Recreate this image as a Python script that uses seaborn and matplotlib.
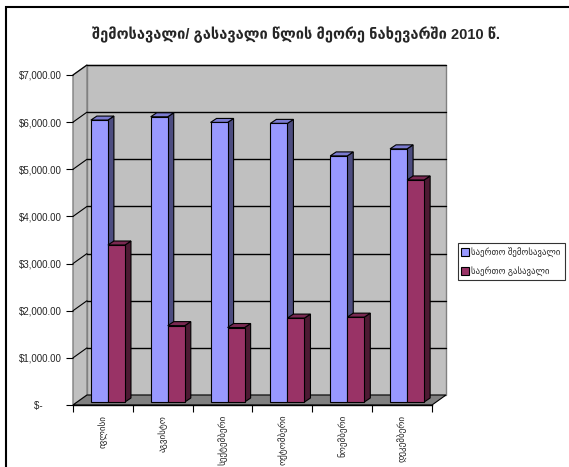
import numpy as np
import pandas as pd
import matplotlib
matplotlib.use("Agg")
import matplotlib.pyplot as plt
import seaborn as sns
from matplotlib.patches import Polygon, Rectangle
from matplotlib.lines import Line2D
from matplotlib.ticker import FixedLocator, FuncFormatter


# Data

months = ["ივლისი", "აგვისტო", "სექტემბერი", "ოქტომბერი", "ნოემბერი", "დეკემბერი"]
income = [5980, 6050, 5930, 5910, 5220, 5370]
expense = [3330, 1620, 1580, 1780, 1800, 4710]
series = ["საერთო შემოსავალი", "საერთო გასავალი"]
yticks = [0, 1000, 2000, 3000, 4000, 5000, 6000, 7000]

df = pd.DataFrame({
    "month": months * 2,
    "value": income + expense,
    "series": [series[0]] * 6 + [series[1]] * 6,
})

front_cols = ["#9999FF", "#993366"]
side_cols = ["#4D4D80", "#4D1A33"]
top_cols = ["#7B7BD0", "#7A2952"]

sns.set_style("white")
plt.rcParams["font.family"] = ["Liberation Sans", "DejaVu Sans"]

fig = plt.figure(figsize=(5.69, 4.67), dpi=100)
ax = fig.add_axes([73 / 569, 1 - 405 / 467, 359 / 569, 330 / 467])

sns.barplot(data=df, x="month", y="value", hue="series", palette=front_cols,
            width=0.57, edgecolor="black", linewidth=0.8, saturation=1,
            legend=False, ax=ax)

ax.set_xlim(-0.5, 5.5)
ax.set_ylim(0, 7000)
ax.set_facecolor("none")

# pixel -> data units
px_x = 6 / 359
px_y = 7000 / 330
bx, by = 14 * px_x, 10 * px_y      # back wall offset
fx, fy = 5 * px_x, 3 * px_y        # bar front plane offset
dx, dy = 6 * px_x, 4 * px_y        # bar depth

# walls and floor
ax.add_patch(Rectangle((-0.5 + bx, by), 6, 7000, facecolor="#C0C0C0",
                       edgecolor="#808080", lw=1, zorder=0, clip_on=False))
ax.add_patch(Polygon([(-0.5, 0), (-0.5 + bx, by), (-0.5 + bx, 7000 + by), (-0.5, 7000)],
                     closed=True, facecolor="#C0C0C0", edgecolor="#808080",
                     lw=1, zorder=0, clip_on=False))
ax.add_patch(Polygon([(-0.5, 0), (5.5, 0), (5.5 + bx, by), (-0.5 + bx, by)],
                     closed=True, facecolor="#808080", edgecolor="black",
                     lw=0.8, zorder=1, clip_on=False))
for v in yticks[1:]:
    ax.plot([-0.5 + bx, 5.5 + bx], [v + by, v + by], color="black", lw=1,
            zorder=0.5, clip_on=False)
    ax.plot([-0.5, -0.5 + bx], [v, v + by], color="black", lw=0.8,
            zorder=0.5, clip_on=False)

# 3d bars built from seaborn's patches
bars = [p for p in ax.patches if isinstance(p, Rectangle) and p.get_width() < 1]
bars = sorted(bars, key=lambda p: p.get_x())
z = 2
for p in bars:
    col = matplotlib.colors.to_hex(p.get_facecolor())
    k = 0 if col.lower() == front_cols[0].lower() else 1
    x0 = p.get_x() + fx
    x1 = x0 + p.get_width()
    h = p.get_height()
    y0 = fy
    y1 = fy + h
    p.set_x(x0)
    p.set_y(y0)
    side = Polygon([(x1, y0), (x1 + dx, y0 + dy), (x1 + dx, y1 + dy), (x1, y1)],
                   closed=True, facecolor=side_cols[k], edgecolor="black",
                   lw=0.8, zorder=z, clip_on=False)
    top = Polygon([(x0, y1), (x0 + dx, y1 + dy), (x1 + dx, y1 + dy), (x1, y1)],
                  closed=True, facecolor=top_cols[k], edgecolor="black",
                  lw=0.8, zorder=z, clip_on=False)
    ax.add_patch(side)
    ax.add_patch(top)
    p.set_zorder(z + 0.5)
    p.set_clip_on(False)
    z += 1

# axes styling
for s in ["top", "right", "left"]:
    ax.spines[s].set_visible(False)
ax.spines["bottom"].set_color("black")
ax.spines["bottom"].set_linewidth(1)
ax.spines["bottom"].set_zorder(50)

ax.set_yticks(yticks)
ax.yaxis.set_major_formatter(FuncFormatter(
    lambda v, pos: "$-       " if v == 0 else "${:,.2f}".format(v)))
ax.tick_params(axis="y", direction="out", length=5, width=0.8, pad=3,
               labelsize=7, left=True, color="black")

ax.xaxis.set_major_locator(FixedLocator(np.arange(-0.5, 6, 1)))
ax.xaxis.set_minor_locator(FixedLocator(np.arange(0, 6, 1)))
ax.set_xticklabels([""] * 7)
ax.set_xticklabels(months, minor=True, rotation=90, va="top", ha="center",
                   fontsize=6.5)
ax.tick_params(axis="x", which="major", direction="out", length=5, width=0.8,
               bottom=True, color="black")
ax.tick_params(axis="x", which="minor", length=0, pad=7)
ax.set_xlabel("")
ax.set_ylabel("")

# title
fig.text(0.52, 1 - 35 / 467, "შემოსავალი/ გასავალი წლის მეორე ნახევარში 2010 წ.",
         ha="center", va="center", fontsize=10.5, fontweight="bold")

# legend
handles = [Line2D([], [], marker="s", linestyle="none", markersize=5.5,
                  markerfacecolor=front_cols[i], markeredgecolor="black",
                  markeredgewidth=0.8) for i in range(2)]
leg = fig.legend(handles, series, loc="upper left",
                 bbox_to_anchor=(458 / 569, 1 - 243 / 467), fontsize=6.3,
                 frameon=True, fancybox=False, borderpad=0.5,
                 handlelength=0.7, handletextpad=0.3, labelspacing=1.0,
                 borderaxespad=0)
leg.get_frame().set_edgecolor("black")
leg.get_frame().set_linewidth(0.8)

# outer frame
fig.add_artist(Rectangle((6 / 569, -0.1), 1.2, 1.1 - 7 / 467,
                         transform=fig.transFigure, fill=False,
                         edgecolor="black", lw=1.5))

fig.savefig("out.png", dpi=100, facecolor="white")
